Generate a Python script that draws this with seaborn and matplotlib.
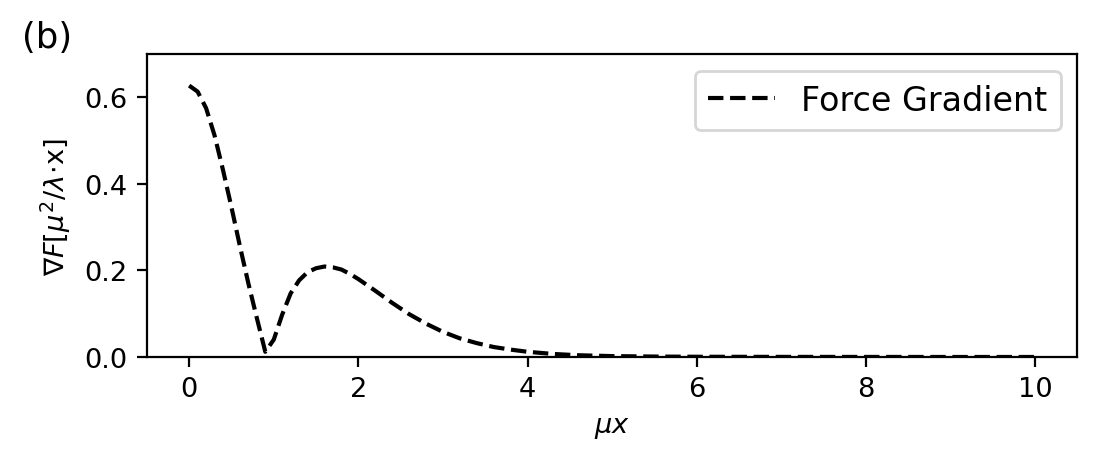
import numpy as np
import pandas as pd
import matplotlib
matplotlib.use("Agg")
import matplotlib.pyplot as plt
import seaborn as sns

# force gradient
mu_x = [0.0, 0.1, 0.2, 0.3, 0.4, 0.5, 0.6, 0.7, 0.8, 0.9,
        1.0, 1.1, 1.2, 1.3, 1.4, 1.5, 1.6, 1.7, 1.8, 1.9,
        2.0, 2.2, 2.4, 2.6, 2.8, 3.0, 3.2, 3.4, 3.6, 3.8,
        4.0, 4.3, 4.6, 5.0, 5.5, 6.0, 7.0, 8.0, 9.0, 10.0]
grad_f = [0.627, 0.613, 0.575, 0.512, 0.432, 0.346, 0.256, 0.170, 0.090, 0.012,
          0.040, 0.098, 0.147, 0.177, 0.196, 0.205, 0.209, 0.207, 0.202, 0.192,
          0.180, 0.153, 0.125, 0.099, 0.077, 0.058, 0.043, 0.032, 0.023, 0.017,
          0.012, 0.007, 0.004, 0.002, 0.001, 0.0005, 0.0002, 0.0001, 0.0, 0.0]

df = pd.DataFrame({"mu_x": mu_x, "grad": grad_f})

fig = plt.figure(figsize=(5.48, 2.32), dpi=200)
ax = fig.add_axes([0.134, 0.2285, 0.849, 0.653])
sns.lineplot(data=df, x="mu_x", y="grad", ax=ax, color="black", linestyle="--",
             linewidth=1.5, label="Force Gradient")
ax.set_xlim(-0.5, 10.5)
ax.set_ylim(0, 0.7)
ax.set_xticks([0, 2, 4, 6, 8, 10])
ax.set_yticks([0.0, 0.2, 0.4, 0.6])
ax.tick_params(labelsize=9.8)
ax.set_xlabel(r"$\mu x$", fontsize=9.8)
ax.set_ylabel(r"$\nabla F[\mu^2/\lambda\!\cdot\!$x$]$", fontsize=9.8)
ax.legend(loc="upper right", fontsize=12)
fig.text(0.02, 0.955, "(b)", fontsize=12.8, ha="left", va="top")
fig.savefig("out.png", dpi=200)
